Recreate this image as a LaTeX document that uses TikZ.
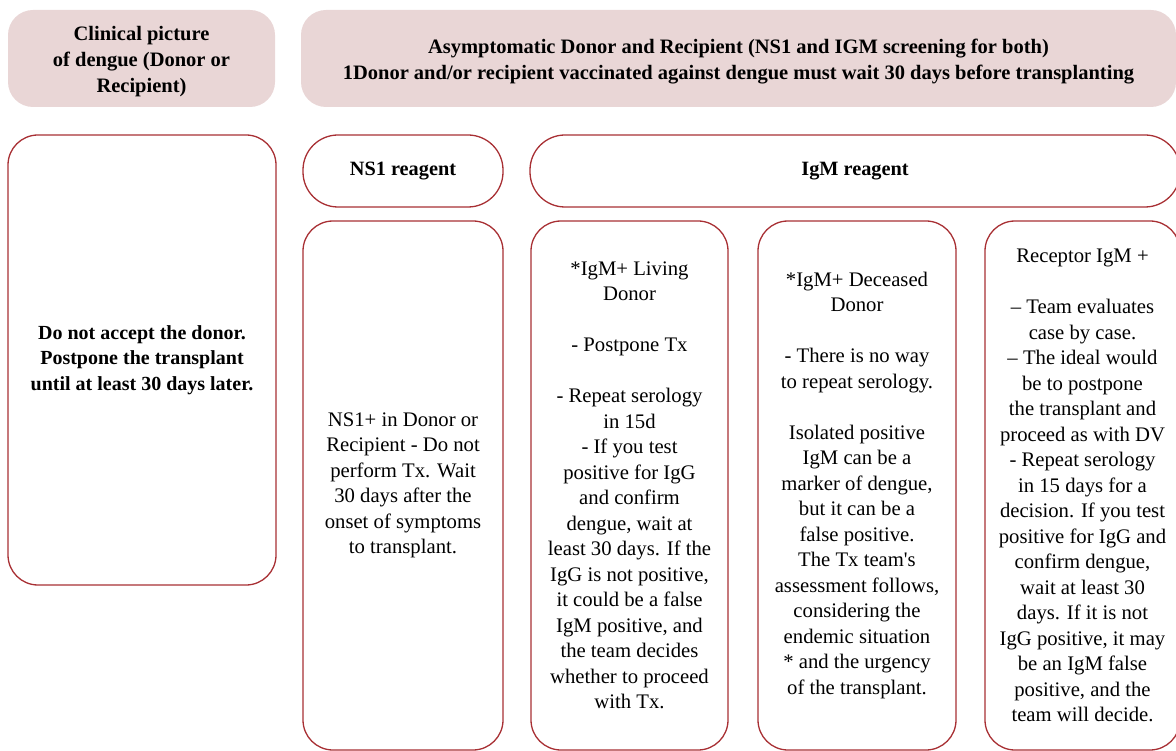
\documentclass[tikz,border=0pt]{standalone}
\usepackage{fontspec}
\setmainfont{Liberation Serif}
\definecolor{pinkfill}{RGB}{233,214,214}
\definecolor{redline}{RGB}{168,48,52}
\begin{document}
\begin{tikzpicture}[x=1pt,y=-1pt,
  pinkbox/.style={fill=pinkfill, rounded corners=25pt, inner sep=0pt, align=center,
    font=\bfseries\fontsize{20.5}{26}\selectfont},
  pillbox/.style={draw=redline, line width=1.3pt, rounded corners=35pt, inner sep=0pt, align=center,
    minimum height=72pt, font=\bfseries\fontsize{20.3}{25.5}\selectfont},
  whitebox/.style={draw=redline, line width=1.3pt, rounded corners=30pt, inner sep=0pt, align=center,
    font=\fontsize{20.7}{25.5}\selectfont},
  boldbox/.style={whitebox, font=\bfseries\fontsize{20}{25.5}\selectfont}]
\useasboundingbox (0,0) rectangle (1176,751);
\node[pinkbox, minimum width=267pt, minimum height=97pt] (clin) at (141.5,58.5) {};
\node[pinkbox, align=center] (clintext) at (141.5,61.5)
  {Clinical picture\\of dengue (Donor or\\Recipient)};
\node[pinkbox, minimum width=875pt, minimum height=97pt] (asym) at (738.5,58.5) {};
\node[pinkbox, align=center] (asymtext) at (738.5,62)
  {Asymptomatic Donor and Recipient (NS1 and IGM screening for both)\\1Donor and/or recipient vaccinated against dengue must wait 30 days before transplanting};
\node[boldbox, minimum width=268pt, minimum height=450pt] (dna) at (142,360)
  {Do not accept the donor.\\Postpone the transplant\\until at least 30 days later.};
\node[pillbox, minimum width=200pt] (ns1) at (403,171) {NS1 reagent};
\node[pillbox, minimum width=650pt] (igm) at (855,171) {IgM reagent};
\node[whitebox, minimum width=200pt, minimum height=529pt] (ns1c) at (403,485.5)
  {NS1+ in Donor or\\Recipient - Do not\\perform Tx. Wait\\30 days after the\\onset of symptoms\\to transplant.};
\node[whitebox, minimum width=197pt, minimum height=529pt] (liv) at (629.5,485.5)
  {*IgM+ Living\\Donor\\[25.5pt]- Postpone Tx\\[25.5pt]- Repeat serology\\in 15d\\- If you test\\positive for IgG\\and confirm\\dengue, wait at\\least 30 days. If the\\IgG is not positive,\\it could be a false\\IgM positive, and\\the team decides\\whether to proceed\\with Tx.};
\node[whitebox, minimum width=198pt, minimum height=529pt] (dec) at (857,485.5)
  {*IgM+ Deceased\\Donor\\[25.5pt]- There is no way\\to repeat serology.\\[25.5pt]Isolated positive\\IgM can be a\\marker of dengue,\\but it can be a\\false positive.\\The Tx team\textquotesingle s\\assessment follows,\\considering the\\endemic situation\\* and the urgency\\of the transplant.};
\node[whitebox, minimum width=195pt, minimum height=529pt] (rec) at (1082.5,485.5)
  {Receptor IgM +\\[25.5pt]-- Team evaluates\\case by case.\\-- The ideal would\\be to postpone\\the transplant and\\proceed as with DV\\- Repeat serology\\in 15 days for a\\decision. If you test\\positive for IgG and\\confirm dengue,\\wait at least 30\\days. If it is not\\IgG positive, it may\\be an IgM false\\positive, and the\\team will decide.};
\end{tikzpicture}
\end{document}
